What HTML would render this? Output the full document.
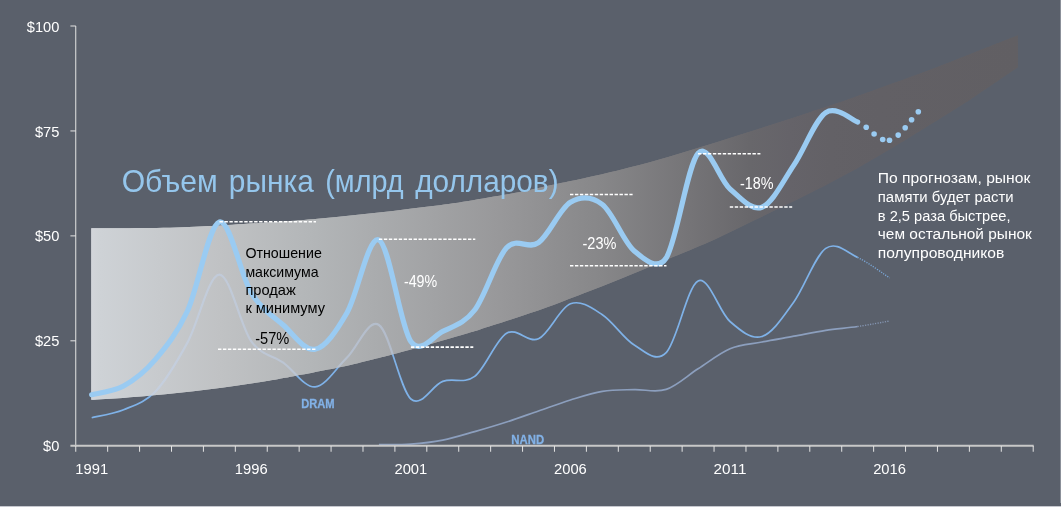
<!DOCTYPE html>
<html lang="ru"><head><meta charset="utf-8"><title>Объем рынка</title>
<style>html,body{margin:0;padding:0;background:#5a606b;overflow:hidden}body{width:1061px;height:507px}svg{display:block}text{font-family:"Liberation Sans",Arial,sans-serif}</style></head><body>
<svg width="1061" height="507" viewBox="0 0 1061 507">
<defs>
<linearGradient id="bg" gradientUnits="userSpaceOnUse" x1="91" y1="0" x2="1018" y2="0">
<stop offset="0.0000" stop-color="#d2d5da"/>
<stop offset="0.0097" stop-color="#ced2d6"/>
<stop offset="0.1392" stop-color="#c0c2c4"/>
<stop offset="0.2362" stop-color="#b3b6b8"/>
<stop offset="0.4412" stop-color="#98989a"/>
<stop offset="0.5491" stop-color="#878789"/>
<stop offset="0.6462" stop-color="#757477"/>
<stop offset="0.7109" stop-color="#68676b"/>
<stop offset="0.7540" stop-color="#656369"/>
<stop offset="0.7972" stop-color="#636166"/>
<stop offset="0.8511" stop-color="#626065"/>
<stop offset="1.0000" stop-color="#615f63"/>
</linearGradient>
<clipPath id="bc"><path d="M91.30 228.20 C101.08 228.18 131.88 228.38 150.00 228.10 C168.12 227.81 186.23 227.04 200.00 226.48 C213.77 225.92 219.27 225.51 232.60 224.74 C245.93 223.96 265.82 222.82 280.00 221.83 C294.18 220.85 305.13 219.98 317.70 218.84 C330.27 217.70 342.83 216.32 355.40 214.99 C367.97 213.67 380.53 212.34 393.10 210.90 C405.67 209.46 418.23 208.02 430.80 206.36 C443.37 204.70 453.63 203.35 468.50 200.94 C483.37 198.54 504.98 194.81 520.00 191.92 C535.02 189.02 548.08 185.80 558.60 183.56 C569.12 181.32 572.73 180.77 583.10 178.47 C593.47 176.18 608.23 172.90 620.80 169.80 C633.37 166.69 645.68 163.46 658.50 159.84 C671.32 156.22 684.88 152.00 697.70 148.06 C710.52 144.13 722.83 140.18 735.40 136.20 C747.97 132.23 760.53 128.25 773.10 124.21 C785.67 120.16 797.98 116.15 810.80 111.92 C823.62 107.69 830.32 105.76 850.00 98.83 C869.68 91.89 907.87 78.15 928.90 70.32 C949.93 62.49 961.38 57.64 976.20 51.85 C991.02 46.06 1010.87 38.31 1017.80 35.60 L1017.80 67.30 C1010.87 72.00 985.83 89.05 976.20 95.50 C966.57 101.95 967.53 101.25 960.00 106.01 C952.47 110.78 939.78 118.65 931.00 124.10 C922.22 129.56 917.17 132.77 907.30 138.72 C897.43 144.67 880.35 154.75 871.80 159.80 C863.25 164.85 863.02 165.16 856.00 169.02 C848.98 172.88 840.37 177.43 829.70 182.95 C819.03 188.46 804.57 195.87 792.00 202.10 C779.43 208.33 767.18 214.10 754.30 220.33 C741.42 226.56 728.75 233.15 714.70 239.48 C700.65 245.80 680.93 253.71 670.00 258.28 C659.07 262.85 657.30 263.50 649.10 266.91 C640.90 270.32 631.80 274.30 620.80 278.75 C609.80 283.20 596.30 288.51 583.10 293.60 C569.90 298.69 558.78 303.30 541.60 309.28 C524.42 315.25 492.18 325.51 480.00 329.45 C467.82 333.40 476.70 330.54 468.50 332.95 C460.30 335.36 443.37 340.36 430.80 343.90 C418.23 347.45 403.15 351.54 393.10 354.23 C383.05 356.91 379.18 357.88 370.50 360.01 C361.82 362.13 355.25 364.00 341.00 366.97 C326.75 369.94 297.82 375.41 285.00 377.84 C272.18 380.26 272.30 380.20 264.10 381.51 C255.90 382.82 245.23 384.37 235.80 385.70 C226.37 387.02 216.92 388.28 207.50 389.45 C198.08 390.62 188.72 391.73 179.30 392.73 C169.88 393.74 160.43 394.63 151.00 395.50 C141.57 396.36 132.65 397.21 122.70 397.93 C112.75 398.65 96.53 399.49 91.30 399.80 Z"/></clipPath>
</defs>
<rect width="1061" height="507" fill="#5a606b"/>
<rect x="1060" y="0" width="1" height="503" fill="#8b9099"/>
<rect x="0" y="506" width="1061" height="1" fill="#c6c8cf"/>
<path d="M91.30 228.20 C101.08 228.18 131.88 228.38 150.00 228.10 C168.12 227.81 186.23 227.04 200.00 226.48 C213.77 225.92 219.27 225.51 232.60 224.74 C245.93 223.96 265.82 222.82 280.00 221.83 C294.18 220.85 305.13 219.98 317.70 218.84 C330.27 217.70 342.83 216.32 355.40 214.99 C367.97 213.67 380.53 212.34 393.10 210.90 C405.67 209.46 418.23 208.02 430.80 206.36 C443.37 204.70 453.63 203.35 468.50 200.94 C483.37 198.54 504.98 194.81 520.00 191.92 C535.02 189.02 548.08 185.80 558.60 183.56 C569.12 181.32 572.73 180.77 583.10 178.47 C593.47 176.18 608.23 172.90 620.80 169.80 C633.37 166.69 645.68 163.46 658.50 159.84 C671.32 156.22 684.88 152.00 697.70 148.06 C710.52 144.13 722.83 140.18 735.40 136.20 C747.97 132.23 760.53 128.25 773.10 124.21 C785.67 120.16 797.98 116.15 810.80 111.92 C823.62 107.69 830.32 105.76 850.00 98.83 C869.68 91.89 907.87 78.15 928.90 70.32 C949.93 62.49 961.38 57.64 976.20 51.85 C991.02 46.06 1010.87 38.31 1017.80 35.60 L1017.80 67.30 C1010.87 72.00 985.83 89.05 976.20 95.50 C966.57 101.95 967.53 101.25 960.00 106.01 C952.47 110.78 939.78 118.65 931.00 124.10 C922.22 129.56 917.17 132.77 907.30 138.72 C897.43 144.67 880.35 154.75 871.80 159.80 C863.25 164.85 863.02 165.16 856.00 169.02 C848.98 172.88 840.37 177.43 829.70 182.95 C819.03 188.46 804.57 195.87 792.00 202.10 C779.43 208.33 767.18 214.10 754.30 220.33 C741.42 226.56 728.75 233.15 714.70 239.48 C700.65 245.80 680.93 253.71 670.00 258.28 C659.07 262.85 657.30 263.50 649.10 266.91 C640.90 270.32 631.80 274.30 620.80 278.75 C609.80 283.20 596.30 288.51 583.10 293.60 C569.90 298.69 558.78 303.30 541.60 309.28 C524.42 315.25 492.18 325.51 480.00 329.45 C467.82 333.40 476.70 330.54 468.50 332.95 C460.30 335.36 443.37 340.36 430.80 343.90 C418.23 347.45 403.15 351.54 393.10 354.23 C383.05 356.91 379.18 357.88 370.50 360.01 C361.82 362.13 355.25 364.00 341.00 366.97 C326.75 369.94 297.82 375.41 285.00 377.84 C272.18 380.26 272.30 380.20 264.10 381.51 C255.90 382.82 245.23 384.37 235.80 385.70 C226.37 387.02 216.92 388.28 207.50 389.45 C198.08 390.62 188.72 391.73 179.30 392.73 C169.88 393.74 160.43 394.63 151.00 395.50 C141.57 396.36 132.65 397.21 122.70 397.93 C112.75 398.65 96.53 399.49 91.30 399.80 Z" fill="url(#bg)"/>
<path d="M91.70 417.70 C97.02 416.37 112.98 414.08 123.62 409.70 C134.25 405.32 144.89 402.58 155.53 391.40 C166.17 380.22 176.81 362.07 187.44 342.60 C198.08 323.13 208.72 274.82 219.36 274.60 C230.00 274.38 240.64 326.63 251.27 341.30 C261.91 355.97 272.55 355.00 283.19 362.60 C293.83 370.20 304.47 387.75 315.11 386.90 C325.74 386.05 336.38 367.82 347.02 357.50 C357.66 347.18 368.30 318.08 378.94 325.00 C389.57 331.92 400.21 389.60 410.85 399.00 C421.49 408.40 432.13 385.17 442.76 381.40 C453.40 377.63 464.04 384.43 474.68 376.40 C485.32 368.37 495.96 339.47 506.59 333.20 C517.23 326.93 527.87 343.70 538.51 338.80 C549.15 333.90 559.79 307.82 570.42 303.80 C581.06 299.78 591.70 307.83 602.34 314.70 C612.98 321.57 623.62 338.68 634.25 345.00 C644.89 351.32 655.53 363.28 666.17 352.60 C676.81 341.92 687.45 286.08 698.09 280.90 C708.72 275.72 719.36 312.23 730.00 321.50 C740.64 330.77 751.28 339.75 761.92 336.50 C772.55 333.25 783.19 316.68 793.83 302.00 C804.47 287.32 815.11 255.82 825.75 248.40 C836.38 240.98 847.02 252.58 857.66 257.50" fill="none" stroke="#7fb2e8" stroke-width="1.7"/>
<path d="M857.66 257.50 C868.30 262.42 884.26 274.50 889.58 277.90" fill="none" stroke="#7fb2e8" stroke-opacity="0.85" stroke-width="1.4" stroke-dasharray="1.2 1.3"/>
<g clip-path="url(#bc)"><rect width="1061" height="507" fill="url(#bg)"/><path d="M91.70 417.70 C97.02 416.37 112.98 414.08 123.62 409.70 C134.25 405.32 144.89 402.58 155.53 391.40 C166.17 380.22 176.81 362.07 187.44 342.60 C198.08 323.13 208.72 274.82 219.36 274.60 C230.00 274.38 240.64 326.63 251.27 341.30 C261.91 355.97 272.55 355.00 283.19 362.60 C293.83 370.20 304.47 387.75 315.11 386.90 C325.74 386.05 336.38 367.82 347.02 357.50 C357.66 347.18 368.30 318.08 378.94 325.00 C389.57 331.92 400.21 389.60 410.85 399.00 C421.49 408.40 432.13 385.17 442.76 381.40 C453.40 377.63 464.04 384.43 474.68 376.40 C485.32 368.37 495.96 339.47 506.59 333.20 C517.23 326.93 527.87 343.70 538.51 338.80 C549.15 333.90 559.79 307.82 570.42 303.80 C581.06 299.78 591.70 307.83 602.34 314.70 C612.98 321.57 623.62 338.68 634.25 345.00 C644.89 351.32 655.53 363.28 666.17 352.60 C676.81 341.92 687.45 286.08 698.09 280.90 C708.72 275.72 719.36 312.23 730.00 321.50 C740.64 330.77 751.28 339.75 761.92 336.50 C772.55 333.25 783.19 316.68 793.83 302.00 C804.47 287.32 815.11 255.82 825.75 248.40 C836.38 240.98 847.02 252.58 857.66 257.50" fill="none" stroke="#c4d6f6" stroke-opacity="0.42" stroke-width="2.2"/></g>
<path d="M378.94 444.60 C384.25 444.52 400.21 444.85 410.85 444.10 C421.49 443.35 432.13 442.18 442.76 440.10 C453.40 438.02 464.04 434.62 474.68 431.60 C485.32 428.58 495.96 425.43 506.59 422.00 C517.23 418.57 527.87 414.67 538.51 411.00 C549.15 407.33 559.79 403.27 570.42 400.00 C581.06 396.73 591.70 393.13 602.34 391.40 C612.98 389.67 623.62 389.93 634.25 389.60 C644.89 389.27 655.53 392.87 666.17 389.40 C676.81 385.93 687.45 375.58 698.09 368.80 C708.72 362.02 719.36 353.17 730.00 348.70 C740.64 344.23 751.28 344.08 761.92 342.00 C772.55 339.92 783.19 338.15 793.83 336.20 C804.47 334.25 815.11 331.92 825.75 330.30 C836.38 328.68 847.02 328.05 857.66 326.50" fill="none" stroke="#8c9fbe" stroke-width="1.7"/>
<path d="M857.66 326.50 C868.30 324.95 884.26 321.92 889.58 321.00" fill="none" stroke="#8c9fbe" stroke-opacity="0.85" stroke-width="1.4" stroke-dasharray="1.2 1.3"/>
<rect x="75.25" y="26" width="1" height="420" fill="#e4e4e4"/>
<rect x="70.4" y="444.75" width="963.30" height="2" fill="#c8c8c8"/>
<rect x="75.25" y="446" width="1" height="5.75" fill="#e4e4e4"/>
<rect x="107.16" y="446" width="1" height="5.75" fill="#e4e4e4"/>
<rect x="139.08" y="446" width="1" height="5.75" fill="#e4e4e4"/>
<rect x="171.00" y="446" width="1" height="5.75" fill="#e4e4e4"/>
<rect x="202.91" y="446" width="1" height="5.75" fill="#e4e4e4"/>
<rect x="234.82" y="446" width="1" height="5.75" fill="#e4e4e4"/>
<rect x="266.74" y="446" width="1" height="5.75" fill="#e4e4e4"/>
<rect x="298.65" y="446" width="1" height="5.75" fill="#e4e4e4"/>
<rect x="330.57" y="446" width="1" height="5.75" fill="#e4e4e4"/>
<rect x="362.49" y="446" width="1" height="5.75" fill="#e4e4e4"/>
<rect x="394.40" y="446" width="1" height="5.75" fill="#e4e4e4"/>
<rect x="426.31" y="446" width="1" height="5.75" fill="#e4e4e4"/>
<rect x="458.23" y="446" width="1" height="5.75" fill="#e4e4e4"/>
<rect x="490.14" y="446" width="1" height="5.75" fill="#e4e4e4"/>
<rect x="522.06" y="446" width="1" height="5.75" fill="#e4e4e4"/>
<rect x="553.97" y="446" width="1" height="5.75" fill="#e4e4e4"/>
<rect x="585.89" y="446" width="1" height="5.75" fill="#e4e4e4"/>
<rect x="617.80" y="446" width="1" height="5.75" fill="#e4e4e4"/>
<rect x="649.72" y="446" width="1" height="5.75" fill="#e4e4e4"/>
<rect x="681.63" y="446" width="1" height="5.75" fill="#e4e4e4"/>
<rect x="713.55" y="446" width="1" height="5.75" fill="#e4e4e4"/>
<rect x="745.47" y="446" width="1" height="5.75" fill="#e4e4e4"/>
<rect x="777.38" y="446" width="1" height="5.75" fill="#e4e4e4"/>
<rect x="809.29" y="446" width="1" height="5.75" fill="#e4e4e4"/>
<rect x="841.21" y="446" width="1" height="5.75" fill="#e4e4e4"/>
<rect x="873.12" y="446" width="1" height="5.75" fill="#e4e4e4"/>
<rect x="905.04" y="446" width="1" height="5.75" fill="#e4e4e4"/>
<rect x="936.95" y="446" width="1" height="5.75" fill="#e4e4e4"/>
<rect x="968.87" y="446" width="1" height="5.75" fill="#e4e4e4"/>
<rect x="1000.78" y="446" width="1" height="5.75" fill="#e4e4e4"/>
<rect x="1032.70" y="446" width="1" height="5.75" fill="#e4e4e4"/>
<rect x="70.4" y="340.31" width="5.4" height="1" fill="#e4e4e4"/>
<rect x="70.4" y="235.38" width="5.4" height="1" fill="#e4e4e4"/>
<rect x="70.4" y="130.44" width="5.4" height="1" fill="#e4e4e4"/>
<rect x="70.4" y="25.50" width="5.4" height="1" fill="#e4e4e4"/>
<text x="59.40" y="451.35" font-size="15" fill="#ffffff" textLength="16.3" lengthAdjust="spacingAndGlyphs" text-anchor="end">$0</text>
<text x="59.40" y="346.41" font-size="15" fill="#ffffff" textLength="24.5" lengthAdjust="spacingAndGlyphs" text-anchor="end">$25</text>
<text x="59.40" y="241.47" font-size="15" fill="#ffffff" textLength="24.5" lengthAdjust="spacingAndGlyphs" text-anchor="end">$50</text>
<text x="59.40" y="136.54" font-size="15" fill="#ffffff" textLength="24.5" lengthAdjust="spacingAndGlyphs" text-anchor="end">$75</text>
<text x="59.40" y="31.60" font-size="15" fill="#ffffff" textLength="32.6" lengthAdjust="spacingAndGlyphs" text-anchor="end">$100</text>
<text x="91.70" y="473.90" font-size="15" fill="#ffffff" textLength="32.8" lengthAdjust="spacingAndGlyphs" text-anchor="middle">1991</text>
<text x="251.27" y="473.90" font-size="15" fill="#ffffff" textLength="32.8" lengthAdjust="spacingAndGlyphs" text-anchor="middle">1996</text>
<text x="410.85" y="473.90" font-size="15" fill="#ffffff" textLength="32.8" lengthAdjust="spacingAndGlyphs" text-anchor="middle">2001</text>
<text x="570.42" y="473.90" font-size="15" fill="#ffffff" textLength="32.8" lengthAdjust="spacingAndGlyphs" text-anchor="middle">2006</text>
<text x="730.00" y="473.90" font-size="15" fill="#ffffff" textLength="32.8" lengthAdjust="spacingAndGlyphs" text-anchor="middle">2011</text>
<text x="889.58" y="473.90" font-size="15" fill="#ffffff" textLength="32.8" lengthAdjust="spacingAndGlyphs" text-anchor="middle">2016</text>
<path d="M91.70 394.70 C97.02 393.25 112.98 391.88 123.62 386.00 C134.25 380.12 144.89 371.90 155.53 359.40 C166.17 346.90 176.81 333.90 187.44 311.00 C198.08 288.10 208.72 225.03 219.36 222.00 C230.00 218.97 240.64 275.63 251.27 292.80 C261.91 309.97 272.55 315.58 283.19 325.00 C293.83 334.42 304.47 351.35 315.11 349.30 C325.74 347.25 336.38 330.92 347.02 312.70 C357.66 294.48 368.30 235.20 378.94 240.00 C389.57 244.80 400.21 326.28 410.85 341.50 C420.45 355.23 433.17 336.04 442.76 331.30 C453.40 326.05 464.04 323.92 474.68 310.00 C485.32 296.08 495.96 259.03 506.59 247.80 C517.23 236.57 527.87 250.18 538.51 242.60 C549.15 235.02 559.79 208.65 570.42 202.30 C581.06 195.95 591.70 196.38 602.34 204.50 C612.98 212.62 623.62 242.08 634.25 251.00 C643.19 258.49 657.23 271.68 666.17 258.00 C676.81 241.72 687.45 164.82 698.09 153.30 C708.72 141.78 719.36 179.92 730.00 188.90 C740.64 197.88 751.28 211.17 761.92 207.20 C772.55 203.23 783.19 180.87 793.83 165.10 C804.47 149.33 815.11 119.78 825.75 112.60 C836.38 105.42 852.34 120.43 857.66 122.00" fill="none" stroke="#9acbf2" stroke-width="5.2" stroke-linecap="round" stroke-linejoin="round"/>
<circle cx="866.2" cy="127.3" r="2.8" fill="#9acbf2"/>
<circle cx="874.1" cy="134.0" r="2.8" fill="#9acbf2"/>
<circle cx="882.7" cy="139.5" r="2.8" fill="#9acbf2"/>
<circle cx="889.5" cy="140.2" r="2.8" fill="#9acbf2"/>
<circle cx="898.2" cy="135.1" r="2.8" fill="#9acbf2"/>
<circle cx="905.2" cy="127.7" r="2.8" fill="#9acbf2"/>
<circle cx="911.6" cy="119.8" r="2.8" fill="#9acbf2"/>
<circle cx="918.3" cy="111.8" r="2.8" fill="#9acbf2"/>
<line x1="219.5" y1="221.70" x2="316.0" y2="221.70" stroke="#ffffff" stroke-width="1.55" stroke-dasharray="3.4 1.55"/>
<line x1="218.0" y1="349.30" x2="315.7" y2="349.30" stroke="#ffffff" stroke-width="1.55" stroke-dasharray="3.4 1.55"/>
<line x1="378.9" y1="239.30" x2="475.3" y2="239.30" stroke="#ffffff" stroke-width="1.55" stroke-dasharray="3.4 1.55"/>
<line x1="410.9" y1="347.10" x2="473.3" y2="347.10" stroke="#ffffff" stroke-width="1.55" stroke-dasharray="3.4 1.55"/>
<line x1="570.0" y1="194.40" x2="632.6" y2="194.40" stroke="#ffffff" stroke-width="1.55" stroke-dasharray="3.4 1.55"/>
<line x1="570.0" y1="265.80" x2="666.5" y2="265.80" stroke="#ffffff" stroke-width="1.55" stroke-dasharray="3.4 1.55"/>
<line x1="698.0" y1="153.80" x2="760.4" y2="153.80" stroke="#ffffff" stroke-width="1.55" stroke-dasharray="3.4 1.55"/>
<line x1="729.8" y1="206.90" x2="792.2" y2="206.90" stroke="#ffffff" stroke-width="1.55" stroke-dasharray="3.4 1.55"/>
<text x="121.70" y="191.50" font-size="31.8" fill="#95c6ec" textLength="96.0" lengthAdjust="spacingAndGlyphs">Объем</text>
<text x="228.80" y="191.50" font-size="31.8" fill="#95c6ec" textLength="85.0" lengthAdjust="spacingAndGlyphs">рынка</text>
<text x="325.20" y="191.50" font-size="31.8" fill="#95c6ec" textLength="78.5" lengthAdjust="spacingAndGlyphs">(млрд</text>
<text x="415.20" y="191.50" font-size="31.8" fill="#95c6ec" textLength="143.4" lengthAdjust="spacingAndGlyphs">долларов)</text>
<text x="245.40" y="258.30" font-size="15" fill="#000000" textLength="76.4" lengthAdjust="spacingAndGlyphs">Отношение</text>
<text x="245.40" y="276.60" font-size="15" fill="#000000" textLength="73.2" lengthAdjust="spacingAndGlyphs">максимума</text>
<text x="245.40" y="294.90" font-size="15" fill="#000000" textLength="50.3" lengthAdjust="spacingAndGlyphs">продаж</text>
<text x="245.40" y="313.20" font-size="15" fill="#000000" textLength="79.6" lengthAdjust="spacingAndGlyphs">к минимуму</text>
<text x="255.20" y="344.00" font-size="15.6" fill="#000000" textLength="34.1" lengthAdjust="spacingAndGlyphs">-57%</text>
<text x="403.90" y="287.20" font-size="15.6" fill="#ffffff" textLength="33.3" lengthAdjust="spacingAndGlyphs">-49%</text>
<text x="582.50" y="249.30" font-size="15.6" fill="#ffffff" textLength="33.9" lengthAdjust="spacingAndGlyphs">-23%</text>
<text x="739.90" y="189.40" font-size="15.6" fill="#ffffff" textLength="33.5" lengthAdjust="spacingAndGlyphs">-18%</text>
<text x="877.80" y="183.40" font-size="15.4" fill="#ffffff" textLength="152.5" lengthAdjust="spacingAndGlyphs">По прогнозам, рынок</text>
<text x="877.80" y="201.95" font-size="15.4" fill="#ffffff" textLength="135.8" lengthAdjust="spacingAndGlyphs">памяти будет расти</text>
<text x="877.80" y="220.50" font-size="15.4" fill="#ffffff" textLength="132.8" lengthAdjust="spacingAndGlyphs">в 2,5 раза быстрее,</text>
<text x="877.80" y="239.05" font-size="15.4" fill="#ffffff" textLength="154.0" lengthAdjust="spacingAndGlyphs">чем остальной рынок</text>
<text x="877.80" y="257.60" font-size="15.4" fill="#ffffff" textLength="126.5" lengthAdjust="spacingAndGlyphs">полупроводников</text>
<text x="301.20" y="408.20" font-size="12.6" fill="#82b1e6" textLength="33.4" lengthAdjust="spacingAndGlyphs" font-weight="bold" stroke="#82b1e6" stroke-width="0.3">DRAM</text>
<text x="511.30" y="443.50" font-size="12.6" fill="#82b1e6" textLength="32.8" lengthAdjust="spacingAndGlyphs" font-weight="bold" stroke="#82b1e6" stroke-width="0.3">NAND</text>
</svg></body></html>
